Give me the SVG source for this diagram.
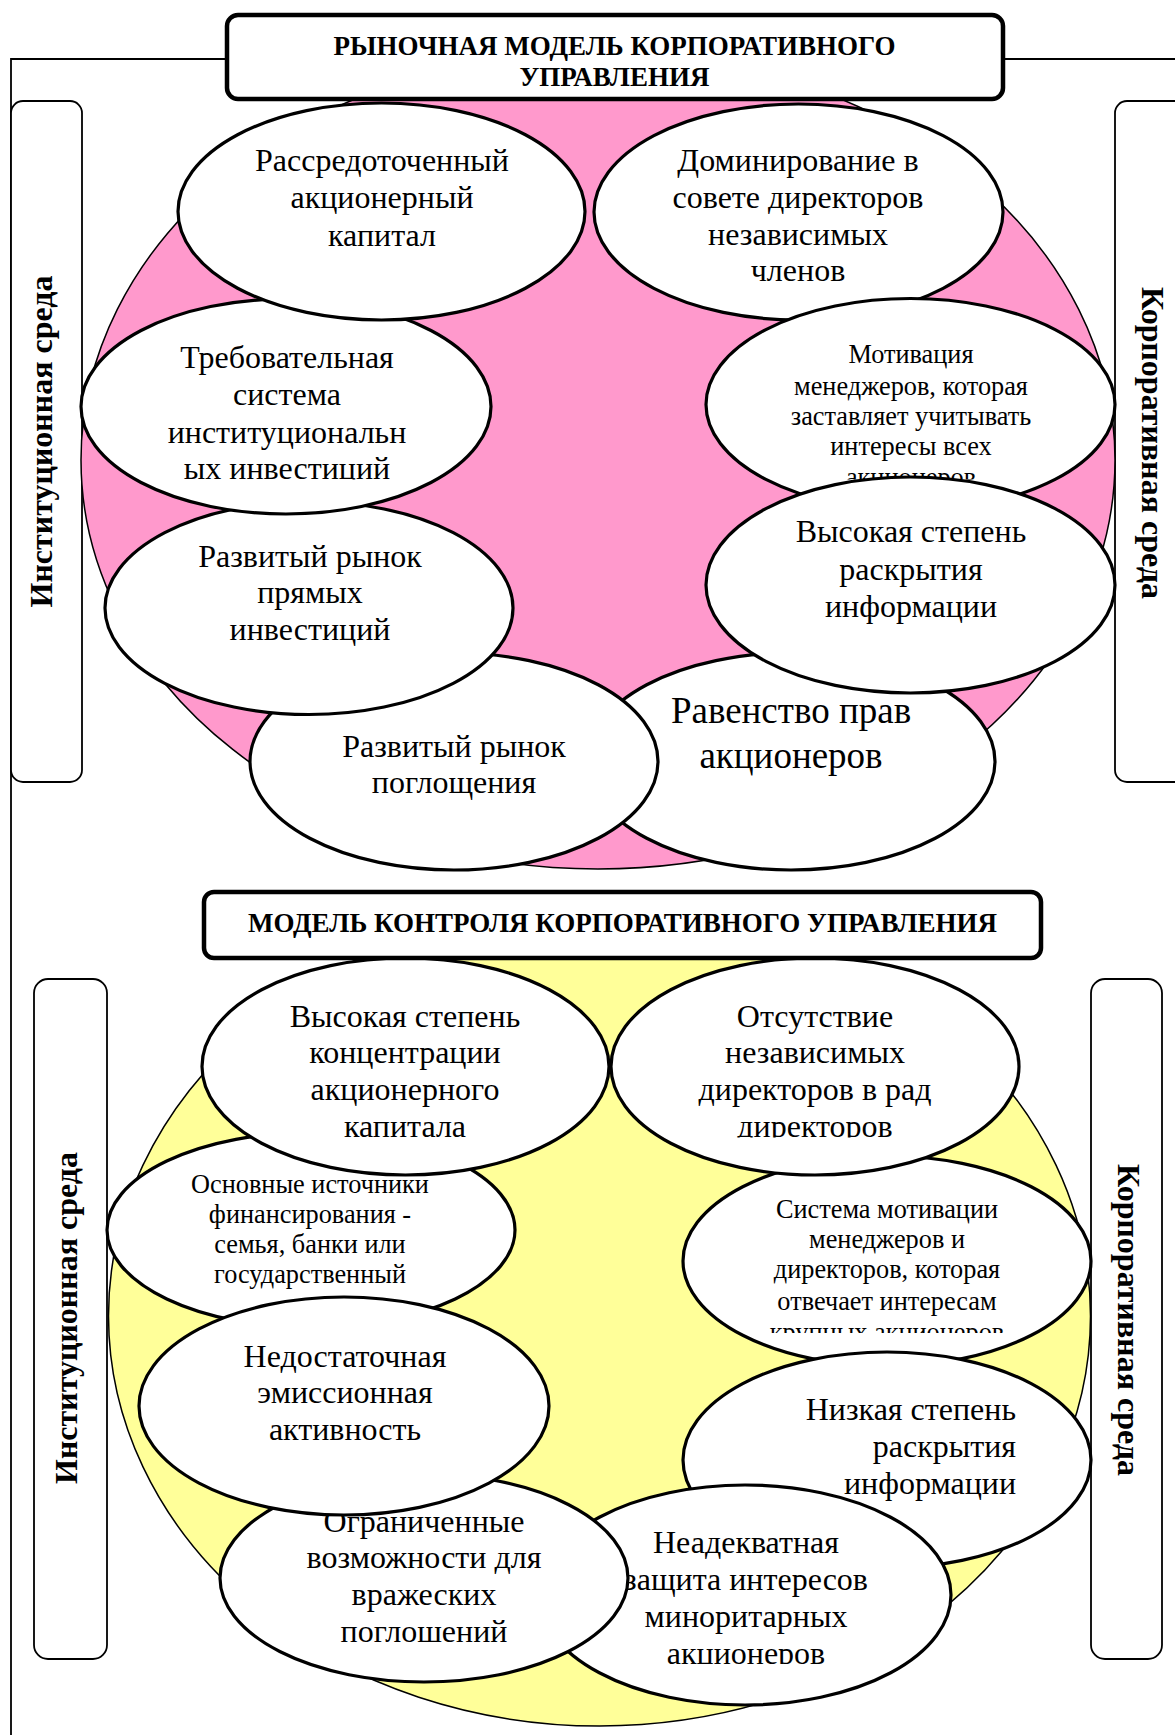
<svg xmlns="http://www.w3.org/2000/svg" width="1175" height="1735" viewBox="0 0 1175 1735">
<style>
.bg{fill:#ffffff}
.pink{fill:#FF99CC;stroke:#000;stroke-width:1.5}
.yellow{fill:#FFFF99;stroke:#000;stroke-width:1.5}
.node{fill:#fff;stroke:#000;stroke-width:3.2}
.side{fill:#fff;stroke:#000;stroke-width:1.8}
.title{fill:#fff;stroke:#000;stroke-width:4.5}
.frame{fill:none;stroke:#000;stroke-width:1.8}
text{font-family:"Liberation Serif","Times New Roman",serif;fill:#000;text-anchor:middle}
.t{font-size:32px}
.s{font-size:26.3px}
.l{font-size:37px}
.h{font-size:27px;font-weight:bold}
.v{font-size:32px;font-weight:bold}
.r{text-anchor:end}
</style>
<defs>
<clipPath id="c3"><rect x="60" y="290" width="460" height="189.5"/></clipPath>
<clipPath id="c4"><rect x="690" y="290" width="440" height="189.5"/></clipPath>
<clipPath id="cb2"><rect x="600" y="950" width="440" height="187.5"/></clipPath>
<clipPath id="cb5"><rect x="670" y="1150" width="440" height="183"/></clipPath>
<clipPath id="cb8"><rect x="530" y="1480" width="440" height="184"/></clipPath>
</defs>
<rect class="bg" x="0" y="0" width="1175" height="1735"/>

<g id="frame">
<path class="frame" d="M11,1735 V59 H226 M1004,59 H1175"/>
</g>

<!-- TOP SECTION -->
<g id="side-inst-top">
<rect class="side" x="11" y="101" width="71" height="681" rx="12"/>
<text class="v" transform="translate(52,441.5) rotate(-90)">Институционная среда</text>
</g>
<g id="side-corp-top">
<rect class="side" x="1115" y="101" width="80" height="681" rx="12"/>
<text class="v" transform="translate(1142,443) rotate(90)">Корпоративная среда</text>
</g>

<g id="market-ellipse">
<ellipse class="pink" cx="598" cy="460" rx="517" ry="409"/>
</g>

<g id="n8">
<ellipse class="node" cx="791" cy="761.5" rx="204" ry="108.5"/>
<text class="l" x="791" y="723">Равенство прав</text>
<text class="l" x="791" y="768">акционеров</text>
</g>
<g id="n7">
<ellipse class="node" cx="454" cy="761.5" rx="204" ry="108.5"/>
<text class="t" x="454" y="757">Развитый рынок</text>
<text class="t" x="454" y="793">поглощения</text>
</g>
<g id="n6">
<ellipse class="node" cx="309" cy="608" rx="204" ry="106.5"/>
<text class="t" x="310" y="567">Развитый рынок</text>
<text class="t" x="310" y="603">прямых</text>
<text class="t" x="310" y="640">инвестиций</text>
</g>
<g id="n3">
<ellipse class="node" cx="286" cy="406.5" rx="205" ry="107.5"/>
<g clip-path="url(#c3)">
<text class="t" x="287" y="368">Требовательная</text>
<text class="t" x="287" y="405">система</text>
<text class="t" x="287" y="443">институциональн</text>
<text class="t" x="287" y="479">ых инвестиций</text>
</g>
</g>
<g id="n1">
<ellipse class="node" cx="381.5" cy="211.5" rx="203.5" ry="108.5"/>
<text class="t" x="382" y="171">Рассредоточенный</text>
<text class="t" x="382" y="208">акционерный</text>
<text class="t" x="382" y="246">капитал</text>
</g>
<g id="n2">
<ellipse class="node" cx="798.5" cy="212" rx="204.5" ry="108"/>
<text class="t" x="798" y="171">Доминирование в</text>
<text class="t" x="798" y="208">совете директоров</text>
<text class="t" x="798" y="245">независимых</text>
<text class="t" x="798" y="281">членов</text>
</g>
<g id="n4">
<ellipse class="node" cx="910.5" cy="404.5" rx="204.5" ry="106"/>
<g clip-path="url(#c4)">
<text class="s" x="911" y="363">Мотивация</text>
<text class="s" x="911" y="395">менеджеров, которая</text>
<text class="s" x="911" y="425">заставляет учитывать</text>
<text class="s" x="911" y="455">интересы всех</text>
<text class="s" x="911" y="486">акционеров</text>
</g>
</g>
<g id="n5">
<ellipse class="node" cx="910.5" cy="585" rx="204.5" ry="108"/>
<text class="t" x="911" y="542">Высокая степень</text>
<text class="t" x="911" y="580">раскрытия</text>
<text class="t" x="911" y="617">информации</text>
</g>

<g id="title-market">
<rect class="title" x="227" y="15" width="776" height="84" rx="11"/>
<text class="h" x="614.5" y="55">РЫНОЧНАЯ МОДЕЛЬ КОРПОРАТИВНОГО</text>
<text class="h" x="614.5" y="86">УПРАВЛЕНИЯ</text>
</g>

<!-- BOTTOM SECTION -->
<g id="side-inst-bottom">
<rect class="side" x="34" y="979" width="73" height="680" rx="14"/>
<text class="v" transform="translate(77,1318) rotate(-90)">Институционная среда</text>
</g>
<g id="side-corp-bottom">
<rect class="side" x="1091" y="979" width="71" height="680" rx="14"/>
<text class="v" transform="translate(1118,1320) rotate(90)">Корпоративная среда</text>
</g>

<g id="control-ellipse">
<ellipse class="yellow" cx="599.5" cy="1316" rx="491" ry="410"/>
</g>

<g id="b3">
<ellipse class="node" cx="311" cy="1230" rx="204" ry="97.5"/>
<text class="s" x="310" y="1193">Основные источники</text>
<text class="s" x="310" y="1223">финансирования -</text>
<text class="s" x="310" y="1253">семья, банки или</text>
<text class="s" x="310" y="1283">государственный</text>
</g>
<g id="b1">
<ellipse class="node" cx="405.5" cy="1066.5" rx="203.5" ry="108.5"/>
<text class="t" x="405" y="1027">Высокая степень</text>
<text class="t" x="405" y="1063">концентрации</text>
<text class="t" x="405" y="1100">акционерного</text>
<text class="t" x="405" y="1137">капитала</text>
</g>
<g id="b5">
<ellipse class="node" cx="887" cy="1261" rx="204" ry="105"/>
<g clip-path="url(#cb5)">
<text class="s" x="887" y="1218">Система мотивации</text>
<text class="s" x="887" y="1248">менеджеров и</text>
<text class="s" x="887" y="1278">директоров, которая</text>
<text class="s" x="887" y="1310">отвечает интересам</text>
<text class="s" x="887" y="1341">крупных акционеров</text>
</g>
</g>
<g id="b2">
<ellipse class="node" cx="815" cy="1066.5" rx="204" ry="108.5"/>
<g clip-path="url(#cb2)">
<text class="t" x="815" y="1027">Отсутствие</text>
<text class="t" x="815" y="1063">независимых</text>
<text class="t" x="815" y="1100">директоров в рад</text>
<text class="t" x="815" y="1137">директоров</text>
</g>
</g>
<g id="b6">
<ellipse class="node" cx="887" cy="1460" rx="204" ry="108"/>
<text class="t r" x="1016" y="1420">Низкая степень</text>
<text class="t r" x="1016" y="1457">раскрытия</text>
<text class="t r" x="1016" y="1494">информации</text>
</g>
<g id="b8">
<ellipse class="node" cx="745" cy="1595" rx="206" ry="110"/>
<g clip-path="url(#cb8)">
<text class="t" x="746" y="1553">Неадекватная</text>
<text class="t" x="746" y="1590">защита интересов</text>
<text class="t" x="746" y="1627">миноритарных</text>
<text class="t" x="746" y="1664">акционеров</text>
</g>
</g>
<g id="b7">
<ellipse class="node" cx="424" cy="1578" rx="204" ry="104"/>
<text class="t" x="424" y="1532">Ограниченные</text>
<text class="t" x="424" y="1568">возможности для</text>
<text class="t" x="424" y="1605">вражеских</text>
<text class="t" x="424" y="1642">поглошений</text>
</g>
<g id="b4">
<ellipse class="node" cx="344" cy="1406" rx="205" ry="109"/>
<text class="t" x="345" y="1367">Недостаточная</text>
<text class="t" x="345" y="1403">эмиссионная</text>
<text class="t" x="345" y="1440">активность</text>
</g>

<g id="title-control">
<rect class="title" x="204" y="892" width="837" height="66" rx="10"/>
<text class="h" x="622.5" y="932">МОДЕЛЬ КОНТРОЛЯ КОРПОРАТИВНОГО УПРАВЛЕНИЯ</text>
</g>
</svg>
